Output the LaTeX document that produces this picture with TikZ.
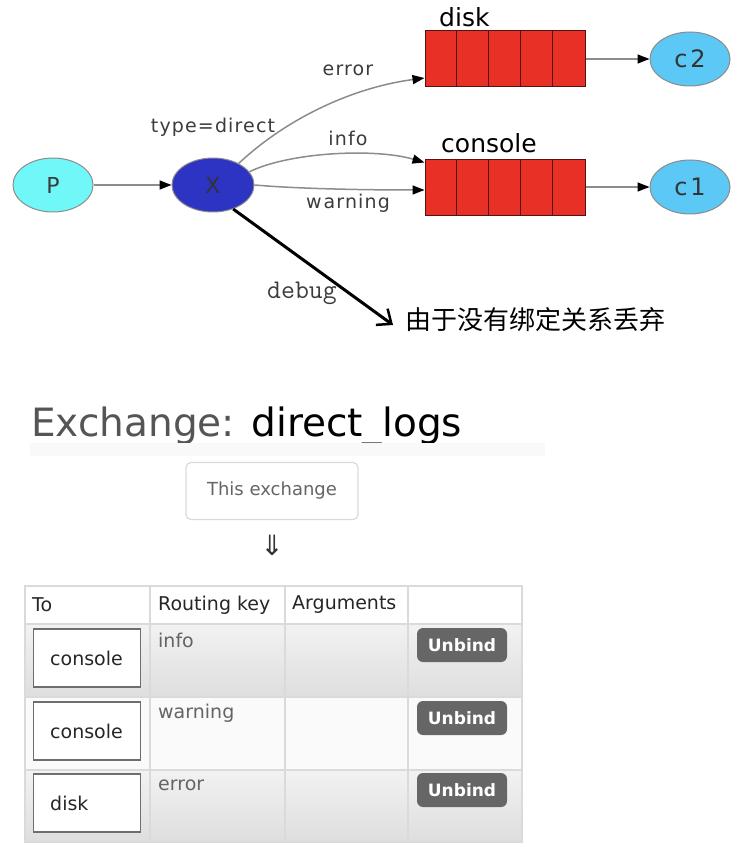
\documentclass[tikz,border=0pt]{standalone}
\usepackage{fontspec}
\setmainfont{DejaVu Sans}
\newfontfamily\gv{DejaVu Sans}[LetterSpace=6]
\newfontfamily\cjk{Noto Sans CJK SC}
\usetikzlibrary{arrows.meta,calc,shapes.geometric}
\definecolor{pfill}{RGB}{112,248,248}
\definecolor{xfill}{RGB}{45,52,196}
\definecolor{qred}{RGB}{233,48,38}
\definecolor{qline}{RGB}{80,20,20}
\definecolor{cfill}{RGB}{92,200,245}
\definecolor{edgegray}{RGB}{140,140,140}
\definecolor{lbl}{RGB}{60,60,60}
\definecolor{ttl}{RGB}{85,85,85}
\definecolor{grid}{RGB}{218,218,218}
\definecolor{rowtop}{RGB}{242,242,242}
\definecolor{rowbot}{RGB}{222,222,222}
\definecolor{rowwhite}{RGB}{250,250,250}
\definecolor{btn}{RGB}{102,102,102}
\definecolor{boxline}{RGB}{110,110,110}
\definecolor{keytxt}{RGB}{100,100,100}
\tikzset{
  fsz/.style={font=\fontsize{#1}{#1}\selectfont},
  gvf/.style={font=\gv\fontsize{#1}{#1}\selectfont},
  ell/.style={ellipse, draw=edgegray, line width=1pt, minimum width=80pt, minimum height=54pt, inner sep=0pt},
  queuebox/.style={rectangle, draw=qline, line width=1pt, fill=qred, minimum width=160pt, minimum height=56pt, inner sep=0pt},
  edge/.style={draw=edgegray, line width=1.5pt, -{Triangle[length=12pt,width=9pt,color=black]}},
  elabel/.style={gvf=19, text=lbl, inner sep=0pt},
  qlabel/.style={fsz=25, text=black, inner sep=0pt},
  innerbox/.style={draw=boxline, line width=1.5pt, fill=white, minimum width=107pt, minimum height=58pt, inner sep=0pt},
  unbind/.style={rounded corners=6pt, fill=btn, text=white, font=\fontsize{17}{17}\selectfont\bfseries, minimum width=90pt, minimum height=34pt, inner sep=0pt},
  celltxt/.style={fsz=19, inner sep=0pt, anchor=west},
}
\begin{document}
\begin{tikzpicture}[x=1pt,y=-1pt]
\useasboundingbox (0,0) rectangle (738,858);
% ---------- top graph ----------
\node[ell, fill=pfill, gvf=22, text=lbl] (P) at (53,185) {P};
\node[ell, fill=xfill, minimum width=82pt, gvf=22, text=black!80] (X) at (213,185) {X};
\node[gvf=19, text=lbl, inner sep=0pt] (type) at (213,127) {type=direct};

\node[queuebox] (qd) at (505,59) {};
\node[queuebox] (qc) at (505,188) {};
\foreach \q in {qd,qc}{
  \foreach \k in {32,64,96,128}{
    \draw[qline, line width=1pt] ($(\q.north west)+(\k,0)$) -- ($(\q.south west)+(\k,0)$);
  }
}
\node[qlabel, anchor=west] (ldisk) at (439,17) {disk};
\node[qlabel, anchor=west] (lcons) at (441,143) {console};

\node[ell, fill=cfill, gvf=24, text=black!80] (C2) at (690,59) {c\kern3pt 2};
\node[ell, fill=cfill, gvf=24, text=black!80] (C1) at (690,187) {c\kern3pt 1};

\draw[edge] (P) -- (X);
\draw[edge] (qd) -- (C2);
\draw[edge] (qc.east |- C1) -- (C1);

\coordinate (eEnd) at ($(qd.west)+(0,19)$);
\coordinate (iEnd) at ($(qc.north west)+(0,3)$);
\coordinate (wEnd) at ($(qc.west)+(0,2)$);
\draw[edge] (X.40) .. controls (285,120) and (350,88) .. (eEnd);
\draw[edge] (X.20) .. controls (290,152) and (375,148) .. (iEnd);
\draw[edge] (X.east) .. controls (300,189) and (370,190) .. (wEnd);

\node[elabel] (lerr) at (348,70) {error};
\node[elabel] (linfo) at (348,138) {info};
\node[elabel] (lwarn) at (348,203) {w\kern2pt arning};

\coordinate (dEnd) at (393,325);
\draw[black, line width=3pt, -{Straight Barb[length=12pt,width=20pt,line width=2.5pt]}] (X.-50) -- (dEnd);
\node[text=lbl, inner sep=0pt, font=\ttfamily\fontsize{27}{27}\selectfont] (ldebug) at (302,293) {debug};
\node[inner sep=0pt, anchor=west, text=black] (drop) at (405,320) {\cjk\fontsize{26}{26}\selectfont 由于没有绑定关系丢弃};

% ---------- bottom: exchange page ----------
\node[anchor=base west, inner sep=0pt, fsz=39] (title) at (31,436) {\textcolor{ttl}{Exchange:} \textcolor{black}{direct\_logs}};
\fill[rowwhite!80!gray!20] (30,443) rectangle (545,456);
\node[draw=grid, line width=1.2pt, rounded corners=5pt, minimum width=172pt, minimum height=57pt, fsz=18, text=keytxt] (this) at (272,491) {This exchange};
\node[inner sep=0pt, fsz=28, text=black!80] (dar) at (272,545) {⇓};

% table rows
\fill[white] (25,586) rectangle (522,624);
\shade[top color=rowtop, bottom color=rowbot] (25,624) rectangle (522,697);
\fill[rowwhite] (25,697) rectangle (522,770);
\shade[top color=rowtop, bottom color=rowbot] (25,770) rectangle (522,842);
\draw[grid, line width=1.5pt] (25,586) rectangle (522,842);
\foreach \yy in {624,697,770}{ \draw[grid, line width=1.5pt] (25,\yy) -- (522,\yy); }
\foreach \xx in {150,285,408}{ \draw[grid, line width=1.5pt] (\xx,586) -- (\xx,842); }

\node[celltxt, text=black!85] (hto) at (32,605) {To};
\node[celltxt, text=black!85] (hrk) at (158,605) {Routing key};
\node[celltxt, text=black!85] (harg) at (292,605) {Arguments};

\node[innerbox] (b1) at (87,658) {};
\node[innerbox] (b2) at (87,731) {};
\node[innerbox] (b3) at (87,803) {};
\node[celltxt, text=black!85] (t1) at (50,658) {console};
\node[celltxt, text=black!85] (t2) at (50,731) {console};
\node[celltxt, text=black!85] (t3) at (50,803) {disk};

\node[celltxt, text=keytxt] (k1) at (158,640) {info};
\node[celltxt, text=keytxt] (k2) at (158,713) {warning};
\node[celltxt, text=keytxt] (k3) at (158,785) {error};

\node[unbind] (u1) at (462,645) {Unbind};
\node[unbind] (u2) at (462,718) {Unbind};
\node[unbind] (u3) at (462,790) {Unbind};
\end{tikzpicture}
\end{document}
